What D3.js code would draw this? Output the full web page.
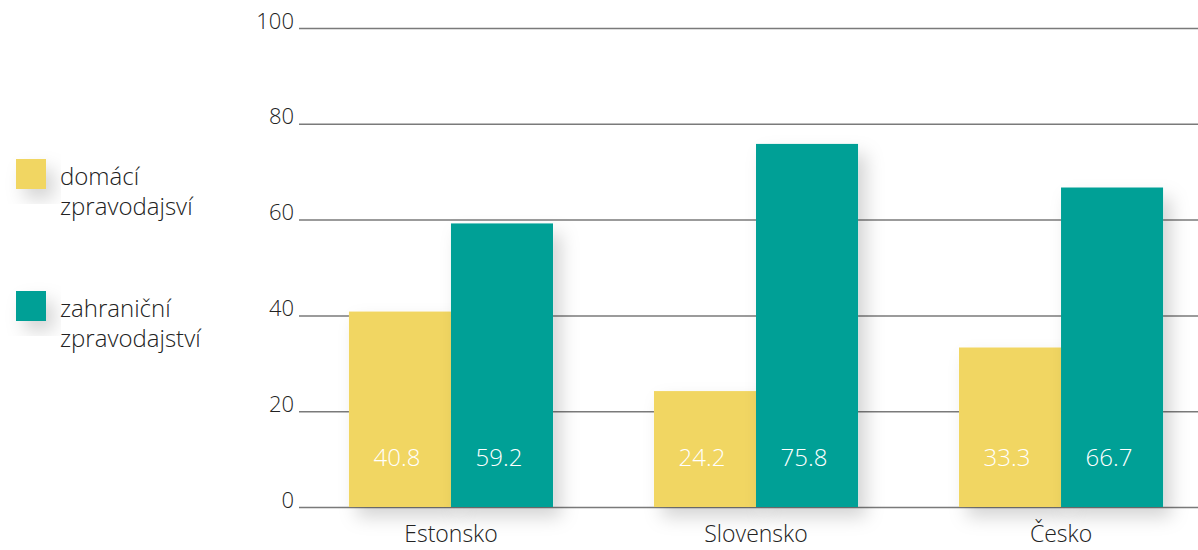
<!DOCTYPE html>
<html>
<head>
<meta charset="utf-8">
<script src="https://cdn.jsdelivr.net/npm/d3@7"></script>
<style>
html,body{margin:0;padding:0;background:#fff;}
svg{display:block;font-family:"Open Sans",sans-serif;}
</style>
</head>
<body>
<svg id="chart" width="1198" height="550"></svg>
<script>
const categories = ["Estonsko", "Slovensko", "Česko"];
const seriesNames = ["domácí zpravodajsví", "zahraniční zpravodajství"];
const legendLines = [["domácí", "zpravodajsví"], ["zahraniční", "zpravodajství"]];
const domestic = [40.8, 24.2, 33.3];
const foreign = [59.2, 75.8, 66.7];
const yTicks = [0, 20, 40, 60, 80, 100];
const colors = ["#f1d662", "#00a096"];

const svg = d3.select("#chart");
const defs = svg.append("defs");
const f = defs.append("filter").attr("id","shadow").attr("x","-50%").attr("y","-50%").attr("width","200%").attr("height","200%");
f.append("feDropShadow").attr("dx",8).attr("dy",10).attr("stdDeviation",9).attr("flood-color","#000").attr("flood-opacity",0.17);

const y = d3.scaleLinear().domain([0,100]).range([507,28]);
const x0 = d3.scaleBand().domain(categories).range([298,1214]).paddingInner(0.331).paddingOuter(0.167);
const x1 = d3.scaleBand().domain([0,1]).range([0,x0.bandwidth()]);

// gridlines
const yAxis = d3.axisLeft(y).tickValues(yTicks).tickSize(-900).tickPadding(5);
const ga = svg.append("g").attr("transform","translate(299,0)").call(yAxis);
ga.select(".domain").remove();
ga.selectAll(".tick line").attr("stroke","#7a7a7a").attr("stroke-width",1.5);
ga.selectAll(".tick text").attr("fill","#222").attr("font-size",22).attr("font-weight",300)
  .attr("font-family","'Open Sans',sans-serif").attr("dy","0");

const data = categories.map((c,i)=>({cat:c, vals:[domestic[i], foreign[i]]}));
const groups = svg.append("g").selectAll("g").data(data).join("g")
  .attr("transform", d=>`translate(${x0(d.cat)},0)`);

groups.selectAll("rect").data(d=>d.vals.map((v,k)=>({v,k}))).join("rect")
  .attr("x", d=>x1(d.k)).attr("width", x1.bandwidth())
  .attr("y", d=>y(d.v)).attr("height", d=>y(0)-y(d.v))
  .attr("fill", d=>colors[d.k]).attr("filter","url(#shadow)");

groups.selectAll("text.val").data(d=>d.vals.map((v,k)=>({v,k}))).join("text")
  .attr("class","val")
  .attr("x", d=>x1(d.k)+x1.bandwidth()/2 - 3).attr("y", 466)
  .attr("text-anchor","middle").attr("fill","#fff").attr("font-size",24).attr("font-weight",300)
  .text(d=>d.v.toFixed(1));

// x axis labels
const xAxis = d3.axisBottom(x0).tickSize(0).tickPadding(35);
const gx = svg.append("g").attr("transform","translate(0,507)").call(xAxis);
gx.select(".domain").remove();
gx.selectAll(".tick text").attr("fill","#222").attr("font-size",23).attr("font-weight",300)
  .attr("font-family","'Open Sans',sans-serif").attr("dy","0");

// legend
const leg = svg.append("g").selectAll("g").data(seriesNames).join("g")
  .attr("transform",(d,i)=>`translate(16,${159+i*132})`);
leg.append("rect").attr("width",30).attr("height",30).attr("fill",(d,i)=>colors[i]).attr("filter","url(#shadow)");
leg.append("text").attr("x",44).attr("y",26).attr("fill","#222").attr("font-size",24).attr("font-weight",300)
  .selectAll("tspan").data((d,i)=>legendLines[i]).join("tspan")
  .attr("x",44).attr("dy",(d,j)=>j===0?0:30).text(d=>d);
</script>
</body>
</html>
